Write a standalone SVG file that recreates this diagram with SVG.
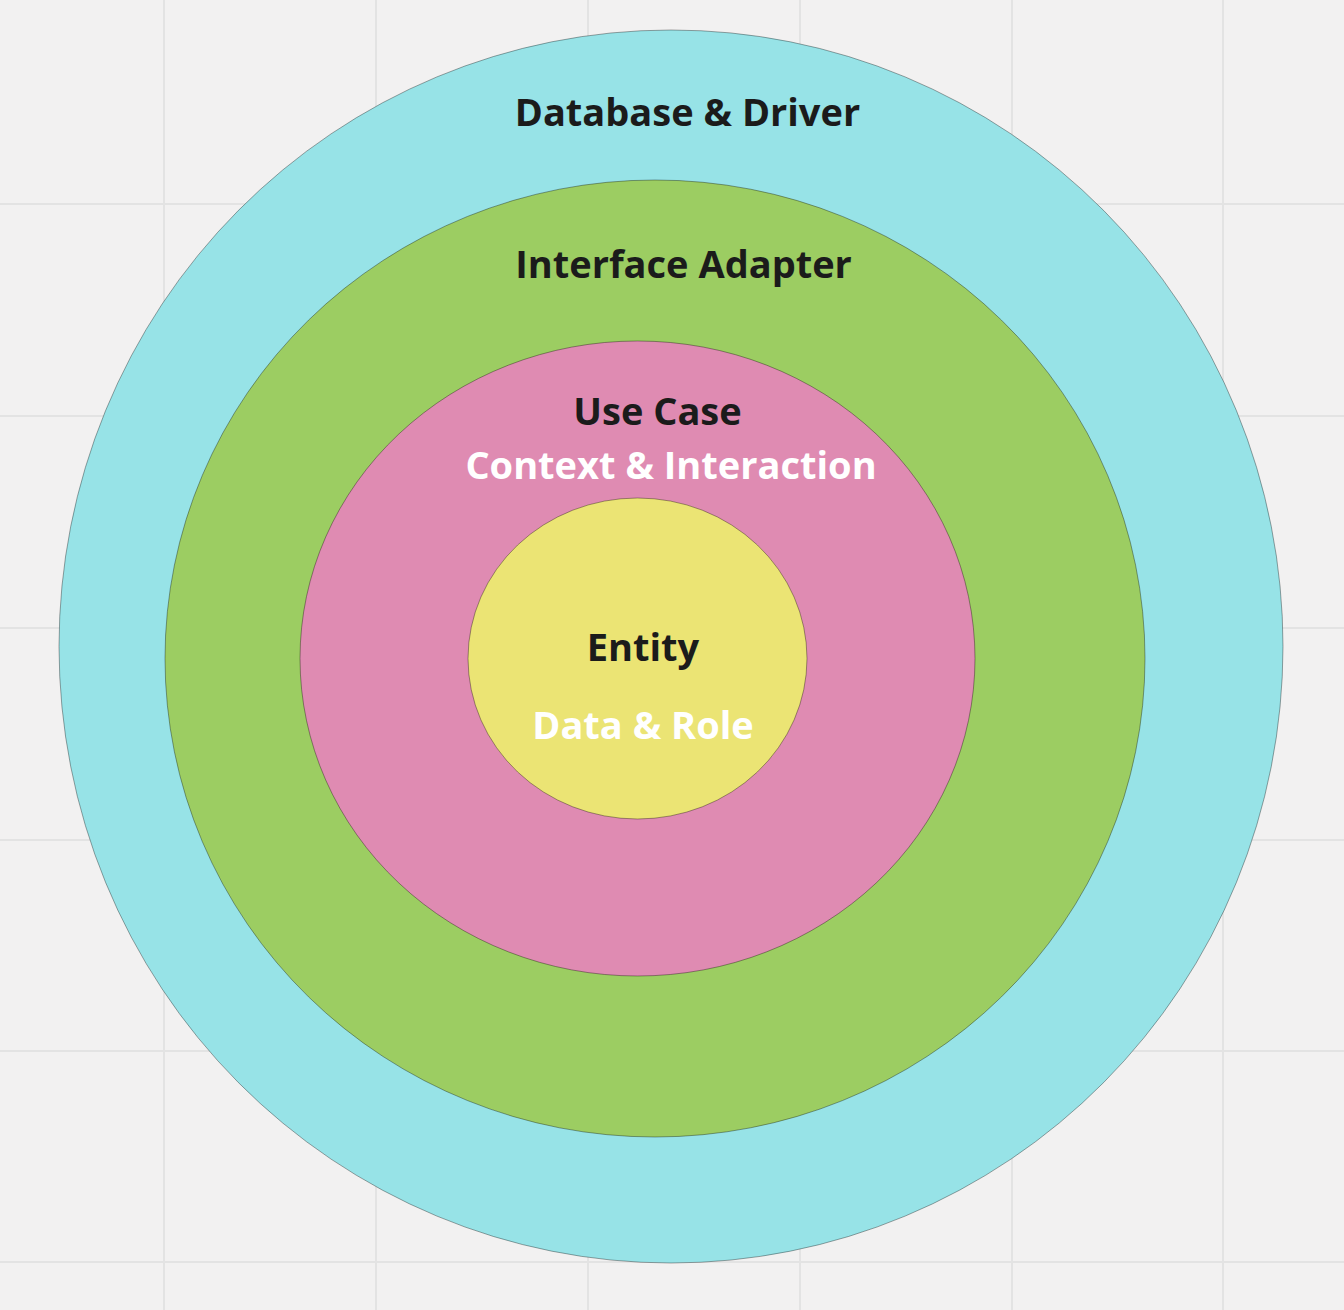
<svg xmlns="http://www.w3.org/2000/svg" width="1344" height="1310" viewBox="0 0 1344 1310">
<style>
.grid{stroke:#e3e3e3;stroke-width:2}
.ring{stroke:#000;stroke-opacity:0.35;stroke-width:1}
.t{font-family:"Open Sans","Noto Sans","Liberation Sans",sans-serif;font-weight:700;font-size:38px;text-anchor:middle}
.dark{fill:#1b1b1b}
.light{fill:#ffffff}
</style>
<rect width="1344" height="1310" fill="#f2f1f1"/>
<g id="grid">
<line class="grid" x1="164" y1="0" x2="164" y2="1310"/>
<line class="grid" x1="376" y1="0" x2="376" y2="1310"/>
<line class="grid" x1="588" y1="0" x2="588" y2="1310"/>
<line class="grid" x1="800" y1="0" x2="800" y2="1310"/>
<line class="grid" x1="1012" y1="0" x2="1012" y2="1310"/>
<line class="grid" x1="1223" y1="0" x2="1223" y2="1310"/>
<line class="grid" x1="0" y1="204" x2="1344" y2="204"/>
<line class="grid" x1="0" y1="416" x2="1344" y2="416"/>
<line class="grid" x1="0" y1="628" x2="1344" y2="628"/>
<line class="grid" x1="0" y1="840" x2="1344" y2="840"/>
<line class="grid" x1="0" y1="1051" x2="1344" y2="1051"/>
<line class="grid" x1="0" y1="1262" x2="1344" y2="1262"/>
</g>
<g id="database-driver">
<ellipse class="ring" cx="671" cy="646.5" rx="612" ry="616.5" fill="#97e3e7"/>
<text class="t dark" x="687.5" y="126">Database &amp; Driver</text>
</g>
<g id="interface-adapter">
<ellipse class="ring" cx="655" cy="658.5" rx="490" ry="478.5" fill="#9ccd62"/>
<text class="t dark" x="683.5" y="278">Interface Adapter</text>
</g>
<g id="use-case">
<ellipse class="ring" cx="637.5" cy="658.5" rx="337.5" ry="317.5" fill="#df8bb2"/>
<text class="t dark" x="657.5" y="425">Use Case</text>
<text class="t light" x="671" y="479">Context &amp; Interaction</text>
</g>
<g id="entity">
<ellipse class="ring" cx="637.5" cy="658.5" rx="169.5" ry="160.5" fill="#ebe474"/>
<text class="t dark" x="643" y="661">Entity</text>
<text class="t light" x="643" y="739">Data &amp; Role</text>
</g>
<g id="connectors"/>
</svg>
